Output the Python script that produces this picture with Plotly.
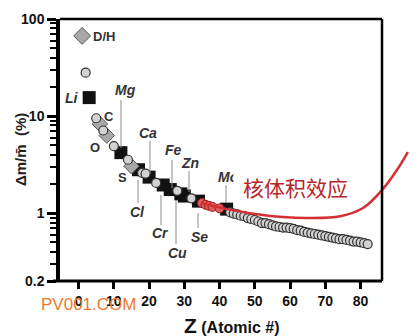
import math
import plotly.graph_objects as go

# ---------------- data ----------------
dh_z = [1]
dh_v = [67]

diamond_z = [6, 8, 15]
diamond_v = [8.3, 6.3, 3.05]

square_z = [3, 12, 17, 20, 24, 26, 29, 30, 34, 42]
square_v = [15.5, 4.2, 2.8, 2.35, 1.95, 1.75, 1.58, 1.5, 1.33, 1.1]

circle_z = [2, 5, 7, 10, 14, 18, 19, 22, 28, 32,
            43, 44, 45, 46, 47, 48, 49, 50, 51, 52, 53, 54, 55, 56, 57, 58, 59, 60,
            61, 62, 63, 64, 65, 66, 67, 68, 69, 70, 71, 72, 73, 74, 75, 76, 77, 78,
            79, 80, 81, 82]
circle_v = [28, 9.5, 7.1, 4.9, 3.55, 2.6, 2.55, 2.05, 1.7, 1.42,
            1.02, 0.99, 0.97, 0.94, 0.93, 0.89, 0.87, 0.85, 0.82, 0.79, 0.79, 0.77,
            0.75, 0.73, 0.72, 0.71, 0.71, 0.70, 0.69, 0.67, 0.66, 0.64, 0.63, 0.62,
            0.61, 0.60, 0.59, 0.58, 0.57, 0.56, 0.55, 0.54, 0.54, 0.53, 0.52, 0.51,
            0.51, 0.50, 0.49, 0.48]

red_z = [35, 36, 37, 38, 40]
red_v = [1.27, 1.22, 1.19, 1.16, 1.12]

curve_z = [34.7, 42.1, 48.6, 58.0, 65.6, 74.2, 80.7, 86.1, 90.3, 93.4]
curve_v = [1.27, 1.10, 1.00, 0.91, 0.89, 0.93, 1.13, 1.73, 2.78, 4.26]

x_ticks = [0, 10, 20, 30, 40, 50, 60, 70, 80]
y_ticks = [0.2, 1, 10, 100]
y_ticktext = ["0.2", "1", "10", "100"]
y_minor = [0.3, 0.4, 0.5, 0.6, 0.7, 0.8, 0.9, 2, 3, 4, 5, 6, 7, 8, 9,
           20, 30, 40, 50, 60, 70, 80, 90]

# ---------------- layout helpers ----------------
W, H = 420, 336
L, R, T, B = 60, 0, 19, 55
PW, PH = W - L - R, H - T - B


def P(px, py):
    return (px - L) / PW, (H - B - py) / PH


FONT = "Liberation Sans, Arial, sans-serif"

fig = go.Figure()
fig.add_trace(go.Scatter(x=square_z, y=square_v, mode="markers",
                         marker=dict(symbol="square", size=13, color="#111111",
                                     line=dict(width=0))))
fig.add_trace(go.Scatter(x=diamond_z, y=diamond_v, mode="markers",
                         marker=dict(symbol="diamond", size=12, color="#a8a8a8",
                                     line=dict(width=1, color="#555555"))))
fig.add_trace(go.Scatter(x=dh_z, y=dh_v, mode="markers",
                         marker=dict(symbol="diamond", size=13, color="#a8a8a8",
                                     line=dict(width=1, color="#555555"))))
fig.add_trace(go.Scatter(x=circle_z, y=circle_v, mode="markers",
                         marker=dict(symbol="circle", size=9, color="#d2d2d2",
                                     line=dict(width=1.2, color="#333333"))))
fig.add_trace(go.Scatter(x=red_z, y=red_v, mode="markers",
                         marker=dict(symbol="circle", size=9, color="#e06060",
                                     line=dict(width=1, color="#a01818"))))
fig.add_trace(go.Scatter(x=curve_z, y=curve_v, mode="lines",
                         line=dict(color="#d42f35", width=2.5, shape="spline",
                                   smoothing=1.0)))

# frame lines
xr = P(382, 0)[0]
xl = P(53, 0)[0]
shapes = [
    dict(type="line", xref="paper", yref="paper", x0=0, x1=xr, y0=1, y1=1,
         line=dict(color="black", width=2.5)),
    dict(type="line", xref="paper", yref="paper", x0=xr, x1=xr, y0=0, y1=1,
         line=dict(color="black", width=2.5)),
    dict(type="line", xref="paper", yref="paper", x0=xl, x1=xr, y0=0, y1=0,
         line=dict(color="black", width=3)),
]
# leader lines (pixel x, y0, y1)
leaders = [(121, 100, 148), (150, 141, 174), (172, 160, 188), (189, 171, 192),
           (226, 185, 203), (138, 180, 203), (161, 195, 225), (176, 200, 244),
           (198, 213, 228)]
for px, py0, py1 in leaders:
    x0, y0 = P(px, py0)
    _, y1 = P(px, py1)
    shapes.append(dict(type="line", xref="paper", yref="paper", x0=x0, x1=x0,
                       y0=y0, y1=y1, line=dict(color="#8a8a8a", width=1)))

annotations = []


def lab(text, px, py, size=14, italic=True, color="#333333", **kw):
    x, y = P(px, py)
    annotations.append(dict(x=x, y=y, xref="paper", yref="paper", text=text,
                            showarrow=False, xanchor="center", yanchor="middle",
                            font=dict(family=FONT, size=size, color=color,
                                      weight="bold",
                                      style="italic" if italic else "normal"),
                            **kw))


lab("D/H", 104, 36, size=13, italic=False)
lab("Li", 72, 98)
lab("C", 109, 116, size=13, italic=False)
lab("O", 95, 147, size=13, italic=False)
lab("Mg", 125, 90)
lab("Ca", 148, 133)
lab("Fe", 173, 150)
lab("Zn", 190, 163)
lab("Mo", 228, 177)
lab("S", 122, 177, size=13, italic=False)
lab("Cl", 137, 212)
lab("Cr", 160, 233)
lab("Cu", 177, 253)
lab("Se", 199, 237)

# Chinese label with white box (hides part of the Mo label)
cx, cy = P(233, 187)
annotations.append(dict(x=cx, y=cy, xref="paper", yref="paper", text="核体积效应",
                        showarrow=False, xanchor="left", yanchor="middle",
                        width=114, height=26, align="right", bgcolor="white",
                        borderpad=0,
                        font=dict(family="Noto Sans CJK SC", size=21,
                                  color="#b8262b")))

# axis titles
tx, ty = P(20, 150)
annotations.append(dict(x=tx, y=ty, xref="paper", yref="paper",
                        text="Δm/m̄  (%)", textangle=-90, showarrow=False,
                        xanchor="center", yanchor="middle",
                        font=dict(family=FONT, size=15, color="#222222",
                                  weight="bold")))
tx, ty = P(232, 325)
annotations.append(dict(x=tx, y=ty, xref="paper", yref="paper",
                        text="<span style='font-size:21px'>Z</span> (Atomic #)",
                        showarrow=False, xanchor="center", yanchor="middle",
                        font=dict(family=FONT, size=16, color="#111111",
                                  weight="bold")))
# watermark
tx, ty = P(88, 304)
annotations.append(dict(x=tx, y=ty, xref="paper", yref="paper", text="PV001.COM",
                        showarrow=False, xanchor="center", yanchor="middle",
                        font=dict(family=FONT, size=17, color="#ec7a2e")))

x0 = (L - 78.6) / 3.525
x1 = (W - R - 78.6) / 3.525

fig.update_layout(
    width=W, height=H, margin=dict(l=L, r=R, t=T, b=B),
    paper_bgcolor="white", plot_bgcolor="white", showlegend=False,
    shapes=shapes, annotations=annotations,
    xaxis=dict(range=[x0, x1], tickvals=x_ticks, ticks="outside", ticklen=7,
               tickwidth=3, tickcolor="black", showline=False, showgrid=False,
               zeroline=False,
               tickfont=dict(family=FONT, size=14, color="#111111", weight="bold")),
    yaxis=dict(type="log", range=[math.log10(0.2), 2], tickvals=y_ticks,
               ticktext=y_ticktext, ticks="outside", ticklen=9, tickwidth=3,
               tickcolor="black", showline=True, linewidth=3.5, linecolor="black",
               showgrid=False, zeroline=False,
               tickfont=dict(family=FONT, size=14, color="#111111", weight="bold"),
               minor=dict(tickvals=y_minor, ticks="outside", ticklen=6,
                          tickwidth=2, tickcolor="black", showgrid=False)),
)

fig.write_html("out.html")
